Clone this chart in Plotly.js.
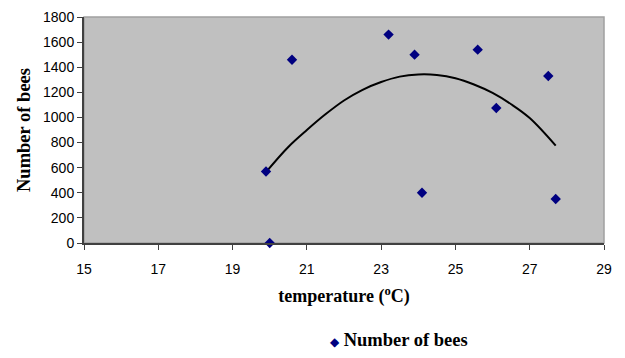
<!DOCTYPE html>
<html>
<head>
<meta charset="utf-8">
<script src="https://cdn.plot.ly/plotly-3.0.1.min.js"></script>
<style>
  html, body { margin: 0; padding: 0; background: #fff; }
  #chart { width: 625px; height: 358px; }
</style>
</head>
<body>
<div id="chart"></div>
<script>
'use strict';

// observed counts per temperature
var temperature = [19.9, 20.0, 20.6, 23.2, 23.9, 24.1, 25.6, 26.1, 27.5, 27.7];
var beeCount = [570, 0, 1460, 1660, 1500, 400, 1540, 1075, 1330, 350];

// trendline
var trendTemp = [19.9, 20.5, 21, 21.5, 22, 22.5, 23, 23.5, 24, 24.5, 25, 25.5, 26, 26.5, 27, 27.7];
var trendCount = [565, 765, 900, 1025, 1135, 1220, 1282, 1325, 1342, 1338, 1312, 1262, 1195, 1105, 995, 775];

var xTicks = [15, 17, 19, 21, 23, 25, 27, 29];
var yTicks = [0, 200, 400, 600, 800, 1000, 1200, 1400, 1600, 1800];

var seriesName = 'Number of bees';

var serif = 'Liberation Serif, Times New Roman, serif';
var sans = 'Liberation Sans, Arial, sans-serif';

var points = {
    x: temperature,
    y: beeCount,
    type: 'scatter',
    mode: 'markers',
    name: seriesName,
    marker: {symbol: 'diamond', size: 8, color: '#000080'},
    cliponaxis: false
};

var trend = {
    x: trendTemp,
    y: trendCount,
    type: 'scatter',
    mode: 'lines',
    line: {color: '#000000', width: 2, shape: 'spline'},
    hoverinfo: 'skip'
};

var layout = {
    width: 625,
    height: 358,
    margin: {l: 84, r: 21, t: 17, b: 115, autoexpand: false},
    paper_bgcolor: '#ffffff',
    plot_bgcolor: '#c0c0c0',
    showlegend: false,
    xaxis: {
        range: [15, 29],
        tickvals: xTicks,
        ticks: 'outside',
        ticklen: 5,
        tickcolor: '#404040',
        ticklabelstandoff: 7,
        showgrid: false,
        zeroline: false,
        showline: true,
        linecolor: '#404040',
        linewidth: 2,
        automargin: false,
        tickfont: {family: sans, size: 14, color: '#000000'},
        title: {
            text: '<b>temperature (<sup>o</sup>C)</b>',
            font: {family: serif, size: 18, color: '#000000'},
            standoff: 14
        }
    },
    yaxis: {
        range: [0, 1800],
        tickvals: yTicks,
        ticks: 'outside',
        ticklen: 5,
        tickcolor: '#404040',
        showgrid: false,
        zeroline: false,
        showline: true,
        linecolor: '#404040',
        linewidth: 2,
        automargin: false,
        tickfont: {family: sans, size: 14, color: '#000000'},
        title: {
            text: '<b>Number of bees</b>',
            font: {family: serif, size: 18.5, color: '#000000'},
            standoff: 8
        }
    },
    // legend drawn as a text line so the marker sits close to its label
    annotations: [
        {
            xref: 'paper', yref: 'paper',
            x: 0.606, y: -0.43,
            xanchor: 'center', yanchor: 'middle',
            showarrow: false,
            text: '<span style="color:#000080;font-size:12px">\u25C6</span> <b>' + seriesName + '</b>',
            font: {family: serif, size: 18.5, color: '#000000'}
        }
    ],
    shapes: [
        {
            type: 'rect', xref: 'paper', yref: 'paper',
            x0: 0, x1: 1, y0: 0, y1: 1,
            line: {color: '#a0a0a0', width: 1.5},
            layer: 'below'
        }
    ]
};

Plotly.newPlot('chart', [trend, points], layout, {displayModeBar: false, staticPlot: true});
</script>
</body>
</html>
